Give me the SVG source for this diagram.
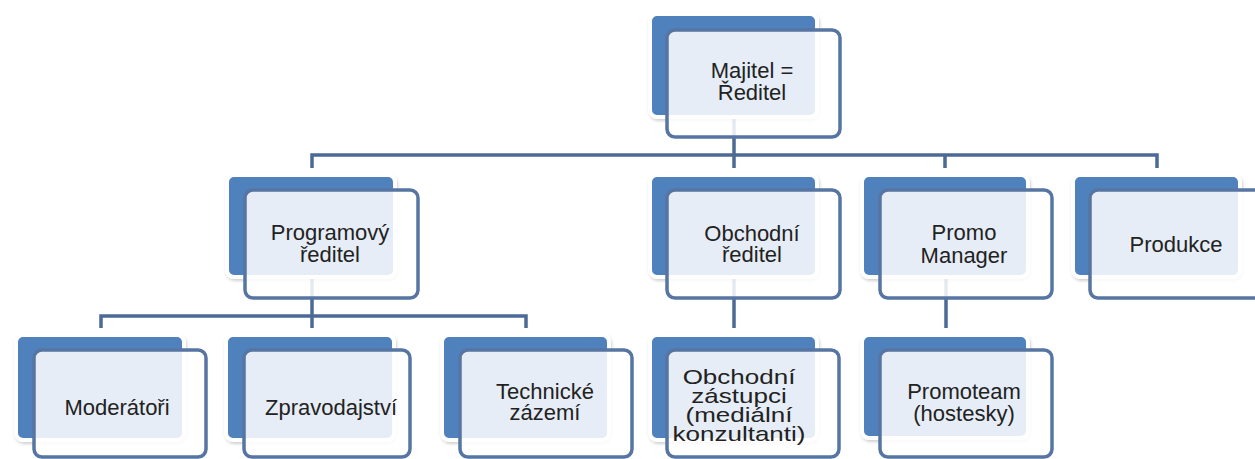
<svg xmlns="http://www.w3.org/2000/svg" width="1255" height="459" viewBox="0 0 1255 459">
<defs>
<filter id="sh" x="-10%" y="-10%" width="130%" height="130%">
<feDropShadow dx="1" dy="2" stdDeviation="1.5" flood-color="#000" flood-opacity="0.18"/>
</filter>
</defs>
<style>
.bk{fill:#4f81bd;stroke:#fff;stroke-width:4;filter:url(#sh)}
.fr{fill:#fff;fill-opacity:0.86;stroke:#5675a3;stroke-width:3.5}
.t{font-family:"Liberation Sans",Arial,sans-serif;font-size:22px;fill:#222;text-anchor:middle}
.s{font-size:20px}
.c{stroke:#4b6a95;stroke-width:3.5;fill:none}
</style>
<rect width="1255" height="459" fill="#fff"/>
<g id="connectors">
<path class="c" d="M312 168V155H1157V168M734 117V168M945 155V168"/>
<path class="c" d="M101 328V316H526V328M312 277V328M734 277V328M946 277V328"/>
</g>
<g id="n-majitel">
<rect class="bk" x="650" y="14" width="167" height="103" rx="7"/>
<rect class="fr" x="667" y="30" width="173" height="107" rx="8"/>
<text class="t" x="752" y="78">Majitel =</text>
<text class="t" x="752" y="100">Ředitel</text>
</g>
<g id="n-programovy">
<rect class="bk" x="227" y="175" width="168" height="102" rx="7"/>
<rect class="fr" x="245" y="190" width="173" height="108" rx="8"/>
<text class="t" x="330" y="240">Programový</text>
<text class="t" x="330" y="262">ředitel</text>
</g>
<g id="n-obchodni">
<rect class="bk" x="650" y="175" width="167" height="102" rx="7"/>
<rect class="fr" x="667" y="190" width="173" height="108" rx="8"/>
<text class="t" x="752" y="241">Obchodní</text>
<text class="t" x="752" y="262">ředitel</text>
</g>
<g id="n-promo">
<rect class="bk" x="862" y="175" width="166" height="102" rx="7"/>
<rect class="fr" x="880" y="190" width="172" height="108" rx="8"/>
<text class="t" x="964" y="240">Promo</text>
<text class="t" x="964" y="263">Manager</text>
</g>
<g id="n-produkce">
<rect class="bk" x="1073" y="175" width="167" height="102" rx="7"/>
<rect class="fr" x="1090" y="190" width="173" height="108" rx="8"/>
<text class="t" x="1176" y="252">Produkce</text>
</g>
<g id="n-moderatori">
<rect class="bk" x="16" y="335" width="168" height="105" rx="7"/>
<rect class="fr" x="34" y="350" width="172" height="107" rx="8"/>
<text class="t" x="117" y="415">Moderátoři</text>
</g>
<g id="n-zpravodajstvi">
<rect class="bk" x="226" y="335" width="168" height="105" rx="7"/>
<rect class="fr" x="244" y="350" width="166" height="107" rx="8"/>
<text class="t" x="331" y="415">Zpravodajství</text>
</g>
<g id="n-technicke">
<rect class="bk" x="442" y="335" width="167" height="105" rx="7"/>
<rect class="fr" x="460" y="350" width="172" height="107" rx="8"/>
<text class="t" x="545" y="399">Technické</text>
<text class="t" x="545" y="420">zázemí</text>
</g>
<g id="n-zastupci">
<rect class="bk" x="650" y="335" width="167" height="105" rx="7"/>
<rect class="fr" x="667" y="350" width="172" height="107" rx="8"/>
<g transform="translate(739 0) scale(1.3 1)">
<text class="t s" x="0" y="384">Obchodní</text>
<text class="t s" x="0" y="403">zástupci</text>
<text class="t s" x="0" y="422">(mediální</text>
<text class="t s" x="0" y="441">konzultanti)</text>
</g>
</g>
<g id="n-promoteam">
<rect class="bk" x="862" y="335" width="166" height="103" rx="7"/>
<rect class="fr" x="880" y="350" width="172" height="107" rx="8"/>
<text class="t" x="964" y="399">Promoteam</text>
<text class="t" x="964" y="421">(hostesky)</text>
</g>
</svg>
